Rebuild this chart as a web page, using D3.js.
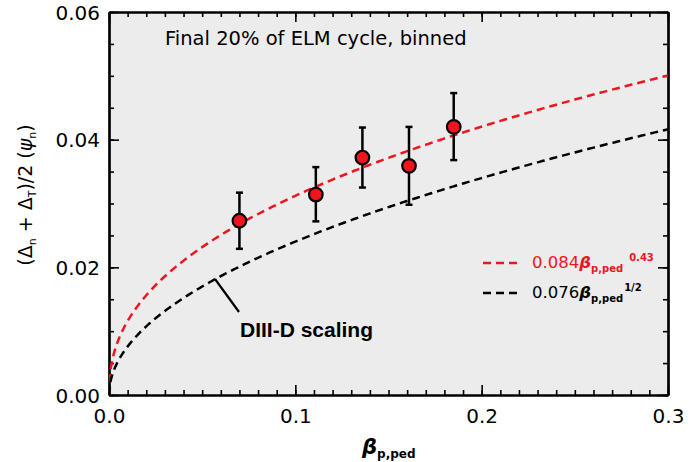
<!DOCTYPE html>
<html>
<head>
<meta charset="utf-8">
<script src="https://cdn.jsdelivr.net/npm/d3@7"></script>
<style>
body { margin: 0; background: #fff; }
text { font-family: "DejaVu Sans", sans-serif; }
</style>
</head>
<body>
<div id="chart"></div>
<script>
// binned points, final 20% of ELM cycle
var betaPed = [0.070, 0.111, 0.136, 0.161, 0.185];
var width = [0.0273, 0.0314, 0.0372, 0.0359, 0.0420];
var errLow = [0.0229, 0.0272, 0.0325, 0.0298, 0.0368];
var errHigh = [0.0317, 0.0357, 0.0419, 0.0420, 0.0473];

// fit curves  c * beta^p
var fitCoef = [0.084, 0.076];
var fitExp = [0.43, 0.5];
var fitColor = ["#f0141e", "#000"];
var fitExpLabel = ["0.43", "1/2"];

var xTicks = [0.0, 0.1, 0.2, 0.3];
var yTicks = [0.00, 0.02, 0.04, 0.06];

var W = 691, H = 462;
var m = {l: 109, r: 23, t: 12, b: 67};

var svg = d3.select("#chart").append("svg").attr("width", W).attr("height", H);

var x = d3.scaleLinear().domain([0, 0.3]).range([m.l, W - m.r]);
var y = d3.scaleLinear().domain([0, 0.06]).range([H - m.b, m.t]);

svg.append("rect").attr("x", m.l).attr("y", m.t)
    .attr("width", W - m.l - m.r).attr("height", H - m.t - m.b)
    .attr("fill", "#ececec");

svg.append("clipPath").attr("id", "clip").append("rect")
    .attr("x", m.l).attr("y", m.t).attr("width", W - m.l - m.r).attr("height", H - m.t - m.b);

// axes with inward ticks on all sides
var xMinor = d3.range(0, 0.3001, 0.01);
var yMinor = d3.range(0, 0.06001, 0.005);
function tickFmt(d) { return d3.format(".1f")(d); }

function addAxis(axisFn, scale, pos, minor, major, fmt) {
    var g = svg.append("g").attr("transform", pos);
    g.append("g").call(axisFn(scale).tickValues(minor).tickSize(-5).tickSizeOuter(0).tickFormat(""));
    g.append("g").call(axisFn(scale).tickValues(major).tickSize(-10).tickSizeOuter(0).tickFormat(fmt || ""));
    return g;
}
var axB = addAxis(d3.axisBottom, x, "translate(0," + (H - m.b) + ")", xMinor, xTicks, tickFmt);
var axT = addAxis(d3.axisTop, x, "translate(0," + m.t + ")", xMinor, xTicks);
var axL = addAxis(d3.axisLeft, y, "translate(" + m.l + ",0)", yMinor, yTicks, d3.format(".2f"));
var axR = addAxis(d3.axisRight, y, "translate(" + (W - m.r) + ",0)", yMinor, yTicks);

svg.selectAll(".domain").attr("stroke", "#000").attr("stroke-width", 2.2);
svg.selectAll(".tick line").attr("stroke", "#000").attr("stroke-width", 1.6);
svg.selectAll(".tick text").attr("font-size", 20).attr("fill", "#000")
    .style("font-family", "'DejaVu Sans', sans-serif");
axB.selectAll(".tick text").attr("y", 14).attr("dy", "0.71em");
axL.selectAll(".tick text").attr("x", -9).attr("dy", "0.36em");

// fit curves
var xs = d3.range(0, 301).map(function(i) { return i * 0.001; });
var line = d3.line().x(d => x(d[0])).y(d => y(d[1]));
fitCoef.forEach(function(c, k) {
    svg.append("path")
        .attr("clip-path", "url(#clip)")
        .attr("d", line(xs.map(function(b) { return [b, c * Math.pow(b, fitExp[k])]; })))
        .attr("fill", "none").attr("stroke", fitColor[k])
        .attr("stroke-width", 2.5).attr("stroke-dasharray", "8,5");
});

// error bars + points
var pts = svg.append("g");
betaPed.forEach(function(b, i) {
    pts.append("line").attr("x1", x(b)).attr("x2", x(b)).attr("y1", y(errLow[i])).attr("y2", y(errHigh[i]))
        .attr("stroke", "#000").attr("stroke-width", 2.5);
    [errLow[i], errHigh[i]].forEach(function(v) {
        pts.append("line").attr("x1", x(b) - 3.5).attr("x2", x(b) + 3.5).attr("y1", y(v)).attr("y2", y(v))
            .attr("stroke", "#000").attr("stroke-width", 2.5);
    });
});
pts.selectAll("circle").data(betaPed).enter().append("circle")
    .attr("cx", d => x(d)).attr("cy", (d, i) => y(width[i])).attr("r", 6.8)
    .attr("fill", "#f0141e").attr("stroke", "#000").attr("stroke-width", 2.2);

// title
svg.append("text").attr("x", 165).attr("y", 45).attr("font-size", 19.5).attr("fill", "#000")
    .text("Final 20% of ELM cycle, binned");

// annotation
svg.append("line").attr("x1", 215).attr("y1", 279).attr("x2", 239).attr("y2", 312)
    .attr("stroke", "#000").attr("stroke-width", 2.2);
svg.append("text").attr("x", 240).attr("y", 337).attr("font-size", 21).attr("font-weight", "bold")
    .style("font-family", "'Liberation Sans', Arial, sans-serif").text("DIII-D scaling");

// legend
var legY = [263, 293];
fitCoef.forEach(function(c, k) {
    svg.append("line").attr("x1", 483).attr("x2", 522).attr("y1", legY[k]).attr("y2", legY[k])
        .attr("stroke", fitColor[k]).attr("stroke-width", 2.5).attr("stroke-dasharray", "8,5");
    var t = svg.append("text").attr("x", 532).attr("y", legY[k] + 5).attr("font-size", 16.5).attr("fill", fitColor[k]);
    t.append("tspan").text(d3.format(".3f")(c));
    t.append("tspan").attr("font-weight", "bold").attr("font-style", "italic").text("β");
    t.append("tspan").attr("font-size", 10).attr("font-weight", "bold").attr("dy", 4).text("p,ped");
    t.append("tspan").attr("font-size", 10).attr("font-weight", "bold").attr("dx", k === 0 ? 6 : 1).attr("dy", -11).text(fitExpLabel[k]);
});

// axis titles
var xl = svg.append("text").attr("x", 362).attr("y", 454).attr("font-size", 21).attr("fill", "#000");
xl.append("tspan").attr("font-weight", "bold").attr("font-style", "italic").text("β");
xl.append("tspan").attr("font-size", 12).attr("font-weight", "bold").attr("dy", 4).text("p,ped");

var yl = svg.append("text").attr("transform", "translate(32,195) rotate(-90)")
    .attr("text-anchor", "middle").attr("font-size", 19).attr("fill", "#000");
yl.append("tspan").text("(Δ");
yl.append("tspan").attr("font-size", 11).attr("dy", 4).text("n");
yl.append("tspan").attr("dy", -4).text(" + Δ");
yl.append("tspan").attr("font-size", 11).attr("dy", 4).text("T");
yl.append("tspan").attr("dy", -4).text(")/2 (");
yl.append("tspan").attr("font-style", "italic").text("ψ");
yl.append("tspan").attr("font-size", 11).attr("dy", 4).text("n");
yl.append("tspan").attr("dy", -4).text(")");
</script>
</body>
</html>
